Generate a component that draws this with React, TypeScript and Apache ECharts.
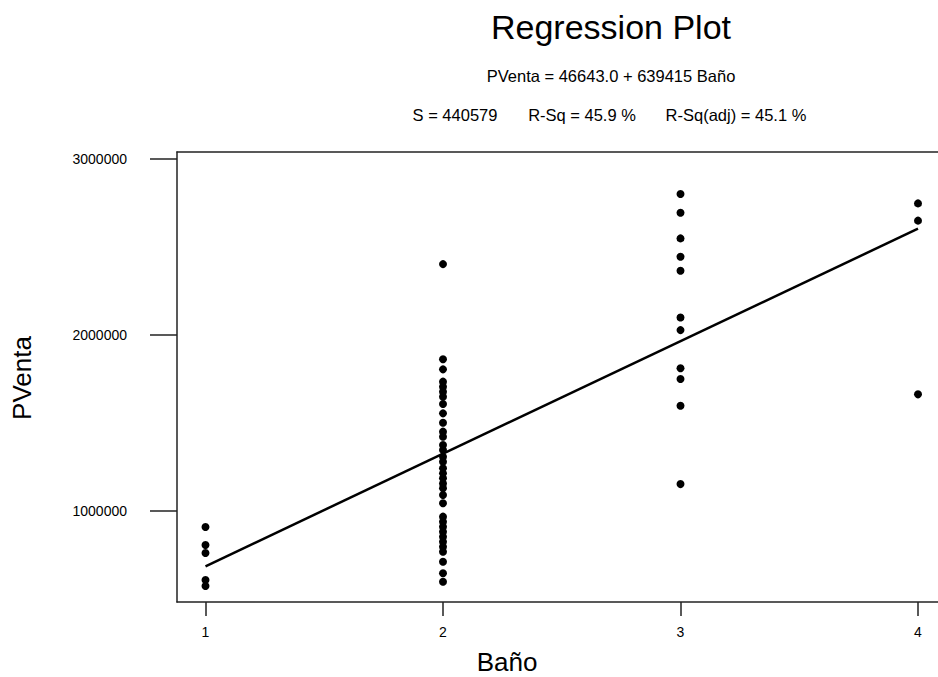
import React, { useEffect, useRef } from "react";
import * as echarts from "echarts";

const xTicks = [1, 2, 3, 4];
const yTicks = [1000000, 2000000, 3000000];

const bano1 = [909000, 807000, 761000, 608000, 574000];
const bano2 = [
  2403000, 1862000, 1805000, 1735000, 1706000, 1678000, 1649000, 1608000,
  1555000, 1502000, 1451000, 1422000, 1375000, 1347000, 1309000, 1280000,
  1243000, 1214000, 1186000, 1157000, 1129000, 1091000, 1044000, 968000,
  939000, 911000, 882000, 854000, 826000, 797000, 769000, 712000, 646000,
  598000,
];
const bano3 = [
  2801000, 2695000, 2549000, 2445000, 2365000, 2100000, 2028000, 1811000,
  1750000, 1598000, 1153000,
];
const bano4 = [2748000, 2650000, 1663000];

const intercept = 46643.0;
const slope = 639415;
const fitX = [1, 4];

const titleText = "Regression Plot";
const eqText = "PVenta = 46643.0 + 639415 Baño";
const statS = "S = 440579";
const statR = "R-Sq = 45.9 %";
const statRadj = "R-Sq(adj) = 45.1 %";
const xName = "Baño";
const yName = "PVenta";

const FONT = "'Liberation Sans', Arial, sans-serif";

export default function App() {
  const ref = useRef<HTMLDivElement>(null);
  useEffect(() => {
    if (!ref.current) return;
    const chart = echarts.init(ref.current, null, { renderer: "svg" });
    const groups: [number, number[]][] = [
      [1, bano1],
      [2, bano2],
      [3, bano3],
      [4, bano4],
    ];
    const points: number[][] = [];
    groups.forEach(([x, vals]) => vals.forEach((v) => points.push([x, v])));
    const fit = fitX.map((x) => [x, intercept + slope * x]);

    const lineStyle = { color: "#222", width: 1.5 };
    const txt = (x: number, y: number, text: string, size: number, extra: any = {}) => ({
      type: "text",
      x,
      y,
      ...extra,
      style: {
        text,
        font: `${size}px ${FONT}`,
        fill: "#000",
        align: "center",
        verticalAlign: "middle",
      },
    });

    chart.setOption({
      animation: false,
      backgroundColor: "#fff",
      textStyle: { fontFamily: FONT },
      grid: {
        left: 177,
        top: 152,
        width: 761,
        height: 450,
        show: false,
      },
      xAxis: [
        {
          type: "value",
          min: 0.88,
          max: 0.88 + 761 / 237.5,
          splitLine: { show: false },
          axisLine: { show: true, onZero: false, lineStyle },
          axisTick: {
            show: true,
            length: 14,
            customValues: xTicks,
            lineStyle,
          },
          axisLabel: {
            customValues: xTicks,
            margin: 23,
            fontSize: 14,
            color: "#000",
            fontFamily: FONT,
          },
        },
        {
          type: "value",
          position: "top",
          min: 0.88,
          max: 0.88 + 761 / 237.5,
          splitLine: { show: false },
          axisLine: { show: true, onZero: false, lineStyle },
          axisTick: { show: false },
          axisLabel: { show: false },
        },
      ],
      yAxis: {
        type: "value",
        min: 483000,
        max: 3040000,
        splitLine: { show: false },
        axisLine: { show: true, onZero: false, lineStyle },
        axisTick: {
          show: true,
          length: 27,
          customValues: yTicks,
          lineStyle,
        },
        axisLabel: {
          customValues: yTicks,
          margin: 50,
          fontSize: 14,
          color: "#000",
          fontFamily: FONT,
          formatter: (v: number) => String(v),
        },
      },
      graphic: [
        txt(611, 27, titleText, 34),
        txt(611, 76, eqText, 16.5),
        txt(455, 115, statS, 16.5),
        txt(582, 115, statR, 16.5),
        txt(736, 115, statRadj, 16.5),
        txt(507, 662, xName, 26),
        txt(22, 378, yName, 26, { rotation: Math.PI / 2 }),
      ],
      series: [
        {
          type: "scatter",
          data: points,
          symbol: "circle",
          symbolSize: 8,
          itemStyle: { color: "#000", opacity: 1 },
          z: 3,
        },
        {
          type: "line",
          data: fit,
          symbol: "none",
          lineStyle: { color: "#000", width: 2.5 },
          z: 2,
        },
      ],
    });
    return () => chart.dispose();
  }, []);
  return (
    <div
      ref={ref}
      style={{ position: "absolute", left: 0, top: 0, width: 938, height: 677 }}
    />
  );
}
